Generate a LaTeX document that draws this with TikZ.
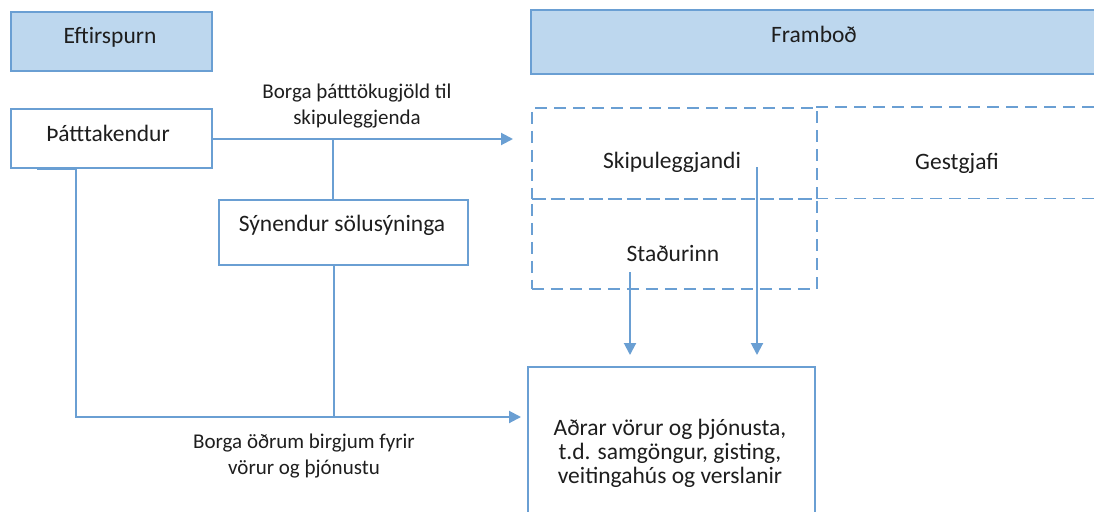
\documentclass[tikz,border=0pt]{standalone}
\usepackage{fontspec}
\setmainfont{Carlito}
\usetikzlibrary{arrows.meta}
\definecolor{lineblue}{HTML}{6A9FD3}
\definecolor{headfill}{HTML}{BDD7EE}
\definecolor{txt}{HTML}{1E1E1E}
\begin{document}
\begin{tikzpicture}[x=1pt,y=-1pt,
  box/.style={draw=lineblue, line width=2pt, fill=white, inner sep=0pt, anchor=north west},
  headbox/.style={box, fill=headfill},
  dline/.style={draw=lineblue, line width=1.8pt, dash pattern=on 12pt off 7pt},
  dbox/.style={dline, inner sep=0pt, anchor=north west},
  txtstyle/.style={text=txt, font=\fontsize{23.5}{24}\selectfont, align=center, inner sep=0pt},
  lbl/.style={text=txt, font=\fontsize{21}{25.5}\selectfont, align=center, inner sep=0pt},
  conn/.style={draw=lineblue, line width=2pt},
  arr/.style={conn, -{Triangle[length=12pt,width=12pt]}},
]
\useasboundingbox (0,0) rectangle (1094,511);
\clip (0,0) rectangle (1094,511);
\fill[white] (0,0) rectangle (1094,511);

% header boxes
\node[headbox, minimum width=201pt, minimum height=59pt] (eft) at (10,11) {};
\node[txtstyle] (eftT) at (110,37) {Eftirspurn};
\node[headbox, minimum width=600pt, minimum height=64pt] (fram) at (530,9) {};
\node[txtstyle] (framT) at (814,34) {Framboð};

% demand side
\node[box, minimum width=201pt, minimum height=59pt] (thatt) at (10,108) {};
\node[txtstyle] (thattT) at (108,133) {Þátttakendur};
\node[box, minimum width=249pt, minimum height=65pt] (syn) at (218,199) {};
\node[txtstyle] (synT) at (342,225) {Sýnendur sölusýninga};

% supply side (dashed)
\node[dbox, minimum width=285pt, minimum height=91pt] (skip) at (531,107) {};
\node[txtstyle] (skipT) at (672,162) {Skipuleggjandi};
\node[dbox, minimum width=285pt, minimum height=90pt] (stad) at (531,198) {};
\node[txtstyle] (stadT) at (673,253) {Staðurinn};
\node[inner sep=0pt, anchor=north west, minimum width=300pt, minimum height=91pt] (gest) at (816,107) {};
\draw[dline] (gest.north west) -- (gest.north east);
\draw[dline] (gest.south west) -- (gest.south east);
\node[txtstyle] (gestT) at (957,163) {Gestgjafi};

% other goods
\node[box, minimum width=287pt, minimum height=170pt] (adr) at (527,366) {};
\node[txtstyle] (adrT) at (670,453) {Aðrar vörur og þjónusta,\\t.d. samgöngur, gisting,\\veitingahús og verslanir};

% labels
\node[lbl] (lblTop) at (357,106) {Borga þátttökugjöld til\\skipuleggjenda};
\node[lbl] (lblBot) at (304,456) {Borga öðrum birgjum fyrir\\vörur og þjónustu};

% connectors
\coordinate (j1) at (333,139);
\coordinate (st) at (37,167);
\coordinate (bl) at (76,417);
\coordinate (j2) at (334,417);
\coordinate (s1) at (630,272);
\coordinate (k1) at (757,167);

\draw[arr, shorten >=18pt] (thatt.east |- j1) -- (skip.west |- j1);
\draw[conn] (j1) -- (j1 |- syn.north);
\draw[arr, shorten >=6pt] (st |- thatt.south) -- (bl |- thatt.south) -- (bl) -- (bl -| adr.west);
\draw[conn] (j2 |- syn.south) -- (j2);
\draw[arr, shorten >=11pt] (s1) -- (s1 |- adr.north);
\draw[arr, shorten >=11pt] (k1) -- (k1 |- adr.north);
\end{tikzpicture}
\end{document}
